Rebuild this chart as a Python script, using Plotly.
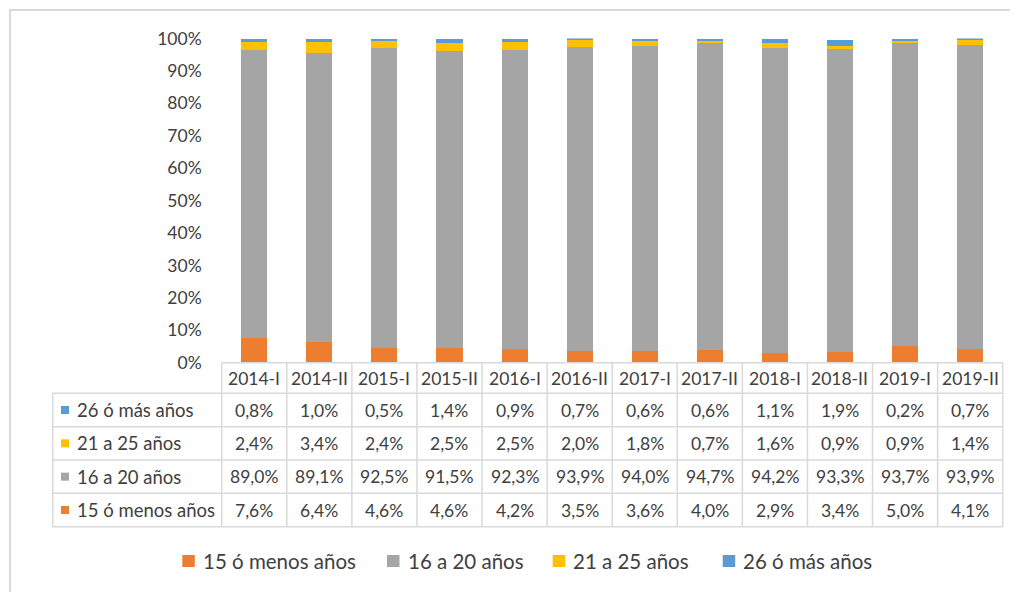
import plotly.graph_objects as go

# ---------------- data ----------------
periods = ["2014-I", "2014-II", "2015-I", "2015-II", "2016-I", "2016-II",
           "2017-I", "2017-II", "2018-I", "2018-II", "2019-I", "2019-II"]
s_15_menos = [7.6, 6.4, 4.6, 4.6, 4.2, 3.5, 3.6, 4.0, 2.9, 3.4, 5.0, 4.1]
s_16_20 = [89.0, 89.1, 92.5, 91.5, 92.3, 93.9, 94.0, 94.7, 94.2, 93.3, 93.7, 93.9]
s_21_25 = [2.4, 3.4, 2.4, 2.5, 2.5, 2.0, 1.8, 0.7, 1.6, 0.9, 0.9, 1.4]
s_26_mas = [0.8, 1.0, 0.5, 1.4, 0.9, 0.7, 0.6, 0.6, 1.1, 1.9, 0.2, 0.7]
series_names = ["15 ó menos años", "16 a 20 años", "21 a 25 años", "26 ó más años"]
series_values = [s_15_menos, s_16_20, s_21_25, s_26_mas]
series_colors = ["#ED7D31", "#A5A5A5", "#FFC000", "#5B9BD5"]
y_ticks = [0, 10, 20, 30, 40, 50, 60, 70, 80, 90, 100]

# ---------------- geometry helpers ----------------
W, H = 1018, 592
OFF = 8  # page body margin
def px(x):
    return (x - OFF) / W
def py(y):
    return 1 - (y - OFF) / H

TXT = "#404040"
FONT = "Lato"
LINE = "#D9D9D9"
NUM_SIZE = 17.5
LBL_SIZE = 18.5
LEG_SIZE = 20.5

x_left, x_right = 221.7, 1002.7
y_zero, y_hundred = 362.7, 38.5
col_w = (x_right - x_left) / len(periods)

fig = go.Figure()
for name, vals, col in zip(series_names, series_values, series_colors):
    fig.add_trace(go.Bar(x=periods, y=vals, name=name, marker_color=col,
                         marker_line_width=0, width=0.4, showlegend=False))

shapes = []
annotations = []

# outer chart border (only top/left visible)
shapes.append(dict(type="rect", xref="paper", yref="paper",
                   x0=px(10), x1=px(1060), y0=py(640), y1=py(10),
                   line=dict(color="#D9D9D9", width=2), layer="below"))

# table rows (top row = last series)
row_lines = [393.3, 426.7, 460.0, 493.3, 526.7]
table_left = 52.7
for y in [y_zero] + row_lines:
    x0 = x_left if y == y_zero else table_left
    shapes.append(dict(type="line", xref="paper", yref="paper",
                       x0=px(x0), x1=px(x_right), y0=py(y), y1=py(y),
                       line=dict(color=LINE, width=1.5)))
shapes.append(dict(type="line", xref="paper", yref="paper",
                   x0=px(table_left), x1=px(table_left),
                   y0=py(row_lines[0]), y1=py(row_lines[-1]),
                   line=dict(color=LINE, width=1.5)))
for k in range(len(periods) + 1):
    x = x_left + k * col_w
    shapes.append(dict(type="line", xref="paper", yref="paper",
                       x0=px(x), x1=px(x), y0=py(y_zero), y1=py(row_lines[-1]),
                       line=dict(color=LINE, width=1.5)))

def fmt(v):
    return f"{v:.1f}%".replace(".", ",")

# header labels
for p in periods:
    annotations.append(dict(x=p, xref="x", y=py((y_zero + row_lines[0]) / 2), yref="paper",
                            text=p, showarrow=False, xanchor="center", yanchor="middle",
                            font=dict(family=FONT, size=NUM_SIZE, color=TXT)))

# table body rows, reversed order (26 ó más on top)
order = list(range(len(series_names)))[::-1]
for r, si in enumerate(order):
    yc = (row_lines[r] + row_lines[r + 1]) / 2
    shapes.append(dict(type="rect", xref="paper", yref="paper",
                       x0=px(61), x1=px(69), y0=py(yc + 4), y1=py(yc - 4),
                       fillcolor=series_colors[si], line=dict(width=0)))
    annotations.append(dict(x=px(75), xref="paper", y=py(yc), yref="paper",
                            text=series_names[si], showarrow=False,
                            xanchor="left", yanchor="middle",
                            font=dict(family=FONT, size=LBL_SIZE, color=TXT)))
    for p, v in zip(periods, series_values[si]):
        annotations.append(dict(x=p, xref="x", y=py(yc), yref="paper",
                                text=fmt(v), showarrow=False,
                                xanchor="center", yanchor="middle",
                                font=dict(family=FONT, size=NUM_SIZE, color=TXT)))

# bottom legend
leg_y = 561
leg_x = [182.3, 387, 552.7, 722.7]
for name, col, lx in zip(series_names, series_colors, leg_x):
    shapes.append(dict(type="rect", xref="paper", yref="paper",
                       x0=px(lx), x1=px(lx + 12.5), y0=py(leg_y + 6), y1=py(leg_y - 6),
                       fillcolor=col, line=dict(width=0)))
    annotations.append(dict(x=px(lx + 18.5), xref="paper", y=py(leg_y), yref="paper",
                            text=name, showarrow=False, xanchor="left", yanchor="middle",
                            font=dict(family=FONT, size=LEG_SIZE, color=TXT)))

fig.update_layout(
    width=W, height=H, autosize=False,
    margin=dict(l=0, r=0, t=0, b=0, pad=0, autoexpand=False),
    paper_bgcolor="white", plot_bgcolor="white",
    barmode="stack", bargap=0.6,
    shapes=shapes, annotations=annotations,
    xaxis=dict(domain=[px(x_left), px(x_right)], showticklabels=False, automargin=False,
               showgrid=False, zeroline=False, showline=False, ticks=""),
    yaxis=dict(domain=[py(y_zero), py(y_hundred)], range=[0, 100], automargin=False,
               tickvals=y_ticks, ticktext=[f"{t}%" for t in y_ticks],
               showgrid=False, zeroline=False, showline=False, ticks="",
               ticklabelstandoff=19,
               tickfont=dict(family=FONT, size=17.5, color=TXT)),
    font=dict(family=FONT, color=TXT),
)

fig.write_html("out.html")
